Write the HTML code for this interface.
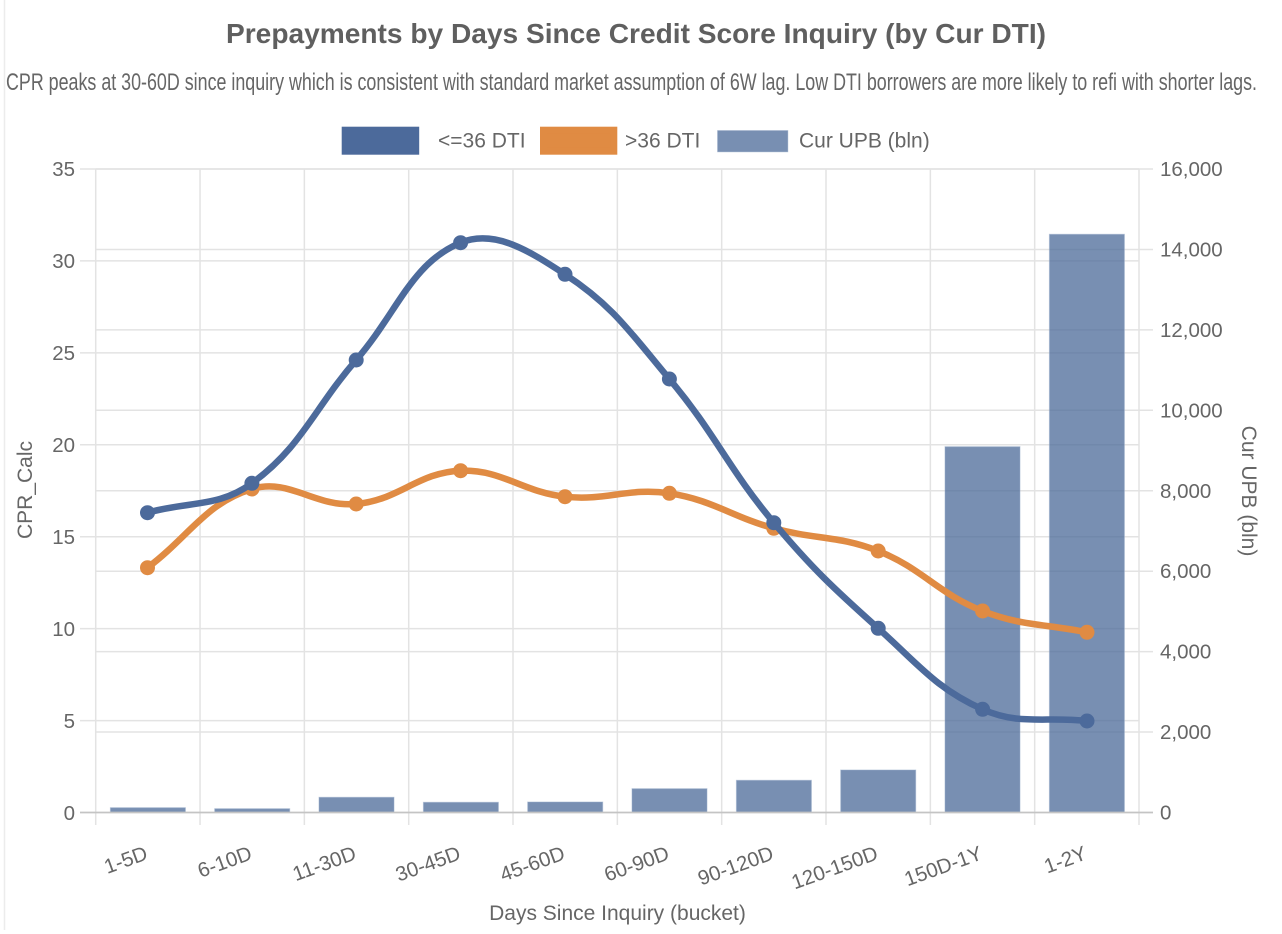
<!DOCTYPE html>
<html>
<head>
<meta charset="utf-8">
<style>
  html, body { margin: 0; padding: 0; background: #ffffff; }
  svg { display: block; }
  text { font-family: "Liberation Sans", Arial, sans-serif; fill: #666666; }
</style>
</head>
<body>
<svg width="1282" height="934" viewBox="0 0 1282 934" xmlns="http://www.w3.org/2000/svg">
  <rect x="0" y="0" width="1282" height="934" fill="#ffffff"/>
  <!-- faint container edge -->
  <line x1="4.5" y1="0" x2="4.5" y2="930" stroke="#ececec" stroke-width="1.5"/>

  <!-- Title -->
  <text x="636" y="43" text-anchor="middle" font-size="28" font-weight="bold" style="fill:#5f5f5f" textLength="820" lengthAdjust="spacingAndGlyphs">Prepayments by Days Since Credit Score Inquiry (by Cur DTI)</text>
  <!-- Subtitle (compressed) -->
  <text x="6" y="90" font-size="24" textLength="1251" lengthAdjust="spacingAndGlyphs">CPR peaks at 30-60D since inquiry which is consistent with standard market assumption of 6W lag. Low DTI borrowers are more likely to refi with shorter lags.</text>

  <!-- Legend -->
  <rect x="345.2" y="130.2" width="70.5" height="21" fill="#4c6a9b" stroke="#4c6a9b" stroke-width="7"/>
  <text x="438" y="147.5" font-size="21">&lt;=36 DTI</text>
  <rect x="543.5" y="130.2" width="70.3" height="21" fill="#e08b43" stroke="#e08b43" stroke-width="7"/>
  <text x="625" y="147.5" font-size="21">&gt;36 DTI</text>
  <rect x="717.7" y="130.7" width="70" height="21" fill="rgba(75,106,152,0.75)" stroke="rgba(120,145,180,0.6)" stroke-width="1"/>
  <text x="799" y="147.5" font-size="21">Cur UPB (bln)</text>

  <!-- Vertical grid lines -->
  <g stroke="#e3e3e3" stroke-width="1.5">
    <line x1="95.7" y1="169" x2="95.7" y2="825"/>
    <line x1="200.03" y1="169" x2="200.03" y2="825"/>
    <line x1="304.36" y1="169" x2="304.36" y2="825"/>
    <line x1="408.69" y1="169" x2="408.69" y2="825"/>
    <line x1="513.02" y1="169" x2="513.02" y2="825"/>
    <line x1="617.35" y1="169" x2="617.35" y2="825"/>
    <line x1="721.68" y1="169" x2="721.68" y2="825"/>
    <line x1="826.01" y1="169" x2="826.01" y2="825"/>
    <line x1="930.34" y1="169" x2="930.34" y2="825"/>
    <line x1="1034.67" y1="169" x2="1034.67" y2="825"/>
    <line x1="1139" y1="169" x2="1139" y2="825"/>
  </g>
  <!-- Left axis horizontal grid -->
  <g stroke="#e3e3e3" stroke-width="1.5">
    <line x1="80" y1="169" x2="1139" y2="169"/>
    <line x1="80" y1="260.93" x2="1139" y2="260.93"/>
    <line x1="80" y1="352.86" x2="1139" y2="352.86"/>
    <line x1="80" y1="444.79" x2="1139" y2="444.79"/>
    <line x1="80" y1="536.71" x2="1139" y2="536.71"/>
    <line x1="80" y1="628.64" x2="1139" y2="628.64"/>
    <line x1="80" y1="720.57" x2="1139" y2="720.57"/>
  </g>
  <!-- Right axis horizontal grid -->
  <g stroke="#e3e3e3" stroke-width="1.5">
    <line x1="95.7" y1="169" x2="1153" y2="169"/>
    <line x1="95.7" y1="249.44" x2="1153" y2="249.44"/>
    <line x1="95.7" y1="329.88" x2="1153" y2="329.88"/>
    <line x1="95.7" y1="410.31" x2="1153" y2="410.31"/>
    <line x1="95.7" y1="490.75" x2="1153" y2="490.75"/>
    <line x1="95.7" y1="571.19" x2="1153" y2="571.19"/>
    <line x1="95.7" y1="651.63" x2="1153" y2="651.63"/>
    <line x1="95.7" y1="732.06" x2="1153" y2="732.06"/>
  </g>

  <!-- Bars -->
  <g fill="rgba(75,106,152,0.75)" stroke="rgba(150,170,200,0.5)" stroke-width="1">
    <rect x="110.4" y="807.7" width="75" height="4.8"/>
    <rect x="214.7" y="808.7" width="75" height="3.8"/>
    <rect x="319" y="797.3" width="75" height="15.2"/>
    <rect x="423.4" y="802.3" width="75" height="10.2"/>
    <rect x="527.7" y="802" width="75" height="10.5"/>
    <rect x="632" y="788.7" width="75" height="23.8"/>
    <rect x="736.4" y="780.3" width="75" height="32.2"/>
    <rect x="840.7" y="770" width="75" height="42.5"/>
    <rect x="945" y="446.7" width="75" height="365.8"/>
    <rect x="1049.4" y="234.3" width="75" height="578.2"/>
  </g>

  <!-- zero line / x axis -->
  <line x1="80" y1="812.5" x2="1153" y2="812.5" stroke="#c4c4c4" stroke-width="1.8"/>

  <!-- Orange series -->
  <path d="M147.5,567.7 C189.26,536.22 205.69,503.1 251.9,489 C289.17,477.62 315.25,507.59 356.2,504 C398.73,500.27 418.46,472.17 460.6,470.7 C501.98,469.25 522.61,492.11 565,496.7 C606.13,501.15 628.75,487.15 669.4,493.3 C712.27,499.79 731.41,516.59 773.8,528.3 C814.93,539.67 838.95,535.45 878.2,551 C922.47,568.53 938.29,593.75 982.6,611 C1021.81,626.27 1045.24,623.78 1087,632.3" fill="none" stroke="#e08b43" stroke-width="6.5" stroke-linejoin="round" stroke-linecap="round"/>
  <g fill="#e08b43">
    <circle cx="147.5" cy="567.7" r="7.5"/>
    <circle cx="251.9" cy="489" r="7.5"/>
    <circle cx="356.2" cy="504" r="7.5"/>
    <circle cx="460.6" cy="470.7" r="7.5"/>
    <circle cx="565" cy="496.7" r="7.5"/>
    <circle cx="669.4" cy="493.3" r="7.5"/>
    <circle cx="773.8" cy="528.3" r="7.5"/>
    <circle cx="878.2" cy="551" r="7.5"/>
    <circle cx="982.6" cy="611" r="7.5"/>
    <circle cx="1087" cy="632.3" r="7.5"/>
  </g>

  <!-- Blue series -->
  <path d="M147.5,512.7 C189.26,500.94 218.36,507.84 251.9,483.3 C301.84,446.76 313.88,408.79 356.2,360 C397.36,312.55 411.32,262.93 460.6,242.7 C494.84,228.65 529.55,251.16 565,274.3 C613.07,305.68 631.46,333.87 669.4,379 C714.98,433.23 728.3,468.38 773.8,522.7 C811.82,568.1 834,588.8 878.2,628.3 C917.52,663.44 936.08,688.65 982.6,709.3 C1019.6,725.73 1045.24,716.32 1087,721" fill="none" stroke="#4c6a9b" stroke-width="6.5" stroke-linejoin="round" stroke-linecap="round"/>
  <g fill="#4c6a9b">
    <circle cx="147.5" cy="512.7" r="7.5"/>
    <circle cx="251.9" cy="483.3" r="7.5"/>
    <circle cx="356.2" cy="360" r="7.5"/>
    <circle cx="460.6" cy="242.7" r="7.5"/>
    <circle cx="565" cy="274.3" r="7.5"/>
    <circle cx="669.4" cy="379" r="7.5"/>
    <circle cx="773.8" cy="522.7" r="7.5"/>
    <circle cx="878.2" cy="628.3" r="7.5"/>
    <circle cx="982.6" cy="709.3" r="7.5"/>
    <circle cx="1087" cy="721" r="7.5"/>
  </g>

  <!-- Left tick labels -->
  <g font-size="20.5" text-anchor="end">
    <text x="75" y="176">35</text>
    <text x="75" y="268">30</text>
    <text x="75" y="360">25</text>
    <text x="75" y="452">20</text>
    <text x="75" y="544">15</text>
    <text x="75" y="636">10</text>
    <text x="75" y="728">5</text>
    <text x="75" y="820">0</text>
  </g>
  <!-- Right tick labels -->
  <g font-size="20.5" text-anchor="start">
    <text x="1160" y="176">16,000</text>
    <text x="1160" y="256.5">14,000</text>
    <text x="1160" y="337">12,000</text>
    <text x="1160" y="417.5">10,000</text>
    <text x="1160" y="498">8,000</text>
    <text x="1160" y="578">6,000</text>
    <text x="1160" y="658.5">4,000</text>
    <text x="1160" y="739">2,000</text>
    <text x="1160" y="819.5">0</text>
  </g>

  <!-- Axis titles -->
  <text transform="translate(32,490) rotate(-90)" text-anchor="middle" font-size="21">CPR_Calc</text>
  <text transform="translate(1242,491) rotate(90)" text-anchor="middle" font-size="21">Cur UPB (bln)</text>
  <text x="617.5" y="920" text-anchor="middle" font-size="21">Days Since Inquiry (bucket)</text>

  <!-- X tick labels -->
  <g font-size="20.5" text-anchor="end">
    <text transform="translate(146.5,852) rotate(-20)" dy="0.35em">1-5D</text>
    <text transform="translate(250.8,852) rotate(-20)" dy="0.35em">6-10D</text>
    <text transform="translate(355.1,852) rotate(-20)" dy="0.35em">11-30D</text>
    <text transform="translate(459.5,852) rotate(-20)" dy="0.35em">30-45D</text>
    <text transform="translate(563.8,852) rotate(-20)" dy="0.35em">45-60D</text>
    <text transform="translate(668.1,852) rotate(-20)" dy="0.35em">60-90D</text>
    <text transform="translate(772.5,852) rotate(-20)" dy="0.35em">90-120D</text>
    <text transform="translate(876.8,852) rotate(-20)" dy="0.35em">120-150D</text>
    <text transform="translate(981.1,852) rotate(-20)" dy="0.35em">150D-1Y</text>
    <text transform="translate(1085.5,852) rotate(-20)" dy="0.35em">1-2Y</text>
  </g>
</svg>
</body>
</html>
